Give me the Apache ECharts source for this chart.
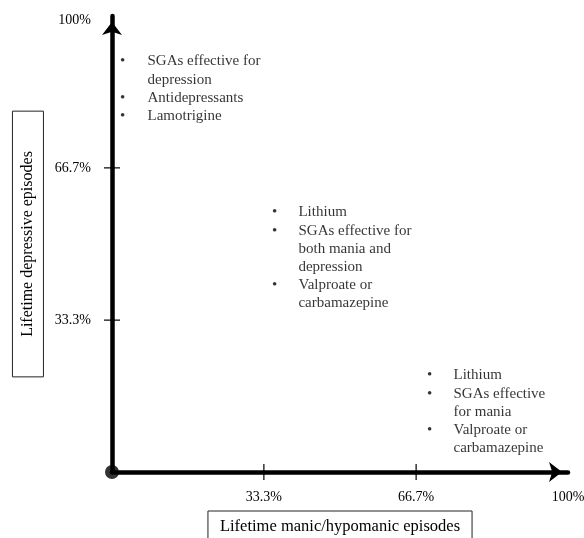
<!DOCTYPE html>
<html>
<head>
<meta charset="utf-8">
<script src="https://cdn.jsdelivr.net/npm/echarts@6/dist/echarts.min.js"></script>
<style>html,body{margin:0;padding:0;background:#fff}#c{width:584px;height:538px}</style>
</head>
<body>
<div id="c"></div>
<script>
const tickValues = [33.3, 66.7];
const labelValues = [33.3, 66.7, 100];
const xTitle = 'Lifetime manic/hypomanic episodes';
const yTitle = 'Lifetime depressive episodes';
const depressionItems = ['SGAs effective for\ndepression', 'Antidepressants', 'Lamotrigine'];
const bothItems = ['Lithium', 'SGAs effective for\nboth mania and\ndepression', 'Valproate or\ncarbamazepine'];
const maniaItems = ['Lithium', 'SGAs effective\nfor mania', 'Valproate or\ncarbamazepine'];

const FONT = "'Liberation Serif', 'DejaVu Serif', serif";
const bulletText = items => items.map(t => '•' + '\n'.repeat(t.split('\n').length - 1)).join('\n');
const bodyText = items => items.join('\n');

const blocks = [
  { items: depressionItems, bx: 1.86, tx: 7.89, y: 91.91 },
  { items: bothItems, bx: 35.2, tx: 41.0, y: 58.79 },
  { items: maniaItems, bx: 69.19, tx: 75.0, y: 23.05 }
];

const textData = [];
blocks.forEach(b => {
  textData.push({ value: [b.bx, b.y], txt: bulletText(b.items) });
  textData.push({ value: [b.tx, b.y], txt: bodyText(b.items) });
});

const chart = echarts.init(document.getElementById('c'));
const axisCommon = {
  type: 'value', min: 0, max: 100,
  splitLine: { show: false },
  axisTick: { show: false },
  axisLine: { show: true, lineStyle: { color: '#000', width: 4.5 }, symbol: ['none', 'arrow'], symbolSize: [15, 13], symbolOffset: [0, -6] },
  axisLabel: {
    customValues: labelValues,
    formatter: v => v + '%',
    color: '#000', fontFamily: FONT, fontSize: 14
  },
  nameLocation: 'middle'
};
chart.setOption({
  animation: false,
  grid: { left: 112, right: 16, top: 16, bottom: 66, containLabel: false, outerBoundsMode: 'none' },
  xAxis: Object.assign({}, axisCommon, {
    axisLabel: Object.assign({}, axisCommon.axisLabel, { margin: 18 }),
    name: xTitle,
    nameGap: 39,
    nameTextStyle: { fontFamily: FONT, fontSize: 16.5, color: '#000', borderColor: '#222', borderWidth: 1, padding: [6, 12, 6, 12], lineHeight: 19 }
  }),
  yAxis: Object.assign({}, axisCommon, {
    axisLabel: Object.assign({}, axisCommon.axisLabel, {
      margin: 21,
      formatter: v => v === 100 ? '{t|' + v + '%}' : v + '%',
      rich: { t: { fontFamily: FONT, fontSize: 14, color: '#000', padding: [8, 0, 0, 0] } }
    }),
    name: yTitle,
    nameRotate: 90,
    nameGap: 68,
    nameTextStyle: { fontFamily: FONT, fontSize: 16, color: '#000', borderColor: '#222', borderWidth: 1, padding: [6, 40, 6, 40], lineHeight: 19 }
  }),
  series: [
    {
      type: 'scatter', symbol: 'rect', symbolSize: [1.5, 16], clip: false, silent: true,
      itemStyle: { color: '#000' },
      data: tickValues.map(v => [v, 0])
    },
    {
      type: 'scatter', symbol: 'rect', symbolSize: [16, 1.5], clip: false, silent: true,
      itemStyle: { color: '#000' },
      data: tickValues.map(v => [0, v])
    },
    {
      type: 'scatter', symbol: 'circle', symbolSize: 14, clip: false, silent: true, z: 5,
      itemStyle: { color: '#000' },
      data: [[0, 0]]
    },
    {
      type: 'scatter', symbolSize: 1, clip: false, silent: true,
      itemStyle: { color: 'transparent' },
      data: textData,
      label: {
        show: true, position: [0, 0], align: 'left', verticalAlign: 'top',
        fontFamily: FONT, fontSize: 15, lineHeight: 18.2, color: '#000',
        formatter: p => p.data.txt
      }
    }
  ]
});
</script>
</body>
</html>
